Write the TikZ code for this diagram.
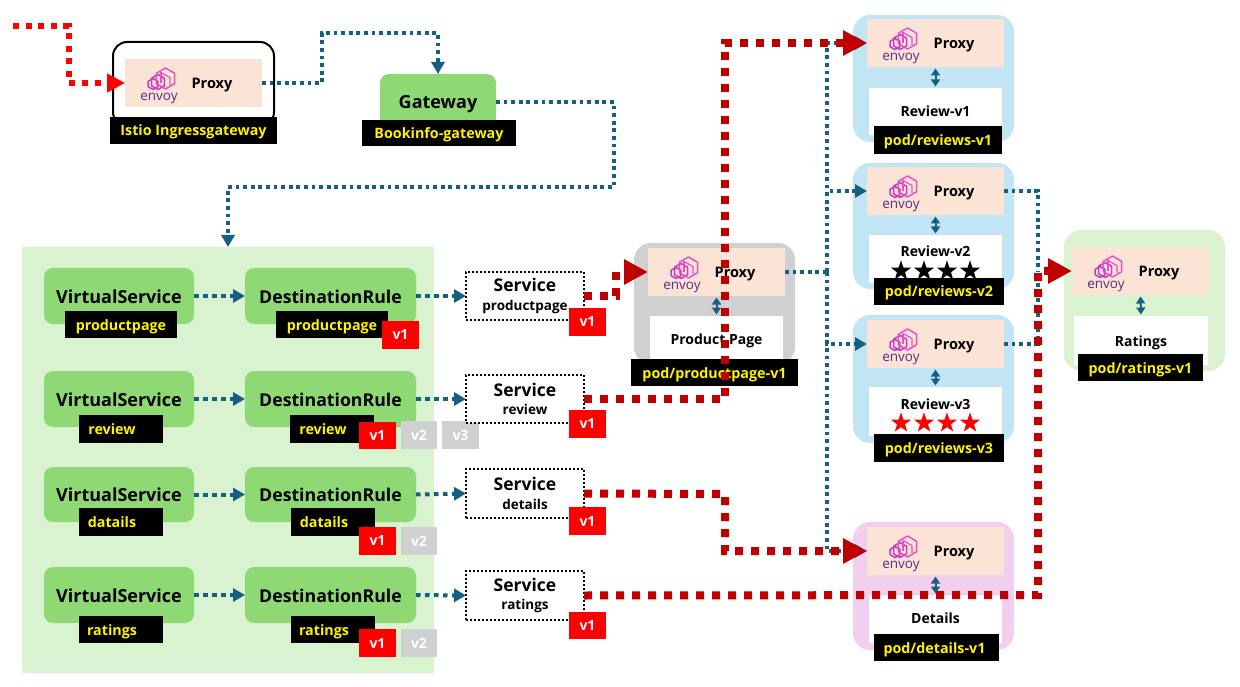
\documentclass[tikz,border=0pt]{standalone}
\usepackage{fontspec}
\setmainfont{Open Sans}
\usetikzlibrary{arrows.meta,shapes.geometric}
\definecolor{teal}{HTML}{156082}
\definecolor{dred}{HTML}{C00000}
\definecolor{bred}{HTML}{FF0000}
\definecolor{ngreen}{HTML}{8ED973}
\definecolor{lgreen}{HTML}{D9F2D0}
\definecolor{lblue}{HTML}{C1E5F5}
\definecolor{lgrey}{HTML}{D0D0D0}
\definecolor{lpink}{HTML}{F2CEEF}
\definecolor{peach}{HTML}{FBE3D6}
\definecolor{hexpink}{HTML}{E84FC8}
\definecolor{hexmag}{HTML}{C63CC0}
\definecolor{envoytxt}{HTML}{5A2C86}
\tikzset{
  panel/.style={fill=lgreen},
  objbox/.style={fill=ngreen,rounded corners=9pt,font=\bfseries\fontsize{18}{20}\selectfont,text=black,text height=14pt,text depth=0pt},
  drbox/.style={objbox,font=\bfseries\fontsize{17.7}{20}\selectfont},
  podbox/.style={rounded corners=17pt},
  proxybox/.style={fill=peach,font=\bfseries\fontsize{14.5}{16}\selectfont,text=black,text height=11pt,text depth=0pt},
  appbox/.style={fill=white,font=\bfseries\fontsize{14}{16}\selectfont,text=black,text height=11pt,text depth=0pt},
  tag/.style={fill=black,text=yellow,font=\bfseries\fontsize{14.3}{16}\selectfont,text height=11pt,text depth=0pt},
  vred/.style={fill=bred,text=white,font=\bfseries\fontsize{14}{16}\selectfont},
  vgrey/.style={fill=lgrey,text=white,font=\bfseries\fontsize{14}{16}\selectfont},
  svcbox/.style={draw=black,fill=white,line width=1.6pt,dash pattern=on 2pt off 2pt,align=center,text=black},
  tealline/.style={draw=teal,line width=3.6pt,dash pattern=on 3.8pt off 3.8pt},
  tealshort/.style={draw=teal,line width=4pt,dash pattern=on 4.5pt off 4.5pt},
  tealtip/.style={-{Triangle[length=12pt,width=13pt,fill=teal]}},
  redline/.style={draw=dred,line width=8pt,dash pattern=on 8pt off 8pt,-{Triangle[length=24pt,width=24pt,fill=dred]}},
  brightline/.style={draw=bred,line width=6pt,dash pattern=on 6pt off 6.6pt,-{Triangle[length=18pt,width=18pt,fill=bred]}},
  biarrow/.style={draw=teal,line width=2pt,{Triangle[length=7pt,width=9pt,fill=teal]}-{Triangle[length=7pt,width=9pt,fill=teal]},shorten <=1.5pt,shorten >=1.5pt},
  starmark/.style={star,star points=5,star point ratio=2.5,inner sep=0pt,minimum size=21pt},
}
\newcommand\bx[7]{%
  \pgfmathsetmacro\bW{#4-#2}\pgfmathsetmacro\bH{#5-#3}%
  \pgfmathsetmacro\bCx{(#2+#4)/2}\pgfmathsetmacro\bCy{(#3+#5)/2}%
  \node[#6,minimum width=\bW pt,minimum height=\bH pt,inner sep=0pt,outer sep=0pt] (#1) at (\bCx,\bCy) {#7};}
\newcommand\hexa[4]{% cx cy r colour
  \pgfmathsetmacro\hA{0.866*#3}\pgfmathsetmacro\hB{0.5*#3}%
  \draw[#4,line width=1.5pt,line join=round] (#1,#2-#3) -- (#1+\hA,#2-\hB) -- (#1+\hA,#2+\hB) -- (#1,#2+#3) -- (#1-\hA,#2+\hB) -- (#1-\hA,#2-\hB) -- cycle;}
\newcommand\proxyb[3]{% name, left, top
  \pgfmathsetmacro\pR{#2+137}\pgfmathsetmacro\pB{#3+48}%
  \bx{#1}{#2}{#3}{\pR}{\pB}{proxybox}{\hspace*{37pt}Proxy}
  \begin{scope}[shift={(#2,#3)}]
    \hexa{28}{25}{5.5}{hexmag}
    \hexa{33}{23}{7.5}{hexmag}
    \hexa{40.5}{19.5}{10.5}{hexpink}
    \draw[hexpink,line width=1.2pt,line join=round] (36,13.5) -- (45,18.5) -- (45,26);
    \draw[hexpink,line width=1.2pt] (36,13.5) -- (36,24);
    \node[text=envoytxt,font=\fontsize{13.5}{15}\selectfont,inner sep=0pt,text height=7pt,text depth=3pt] (#1logo) at (34,39.5) {envoy};
  \end{scope}}
\newcommand\svctext[1]{{\bfseries\fontsize{17.5}{22}\selectfont Service}\\[6.5pt]{\bfseries\fontsize{13.5}{15}\selectfont #1}}
\begin{document}
\begin{tikzpicture}[x=1pt,y=-1pt]
\useasboundingbox[fill=white] (0,0) rectangle (1240,687);

% panel with the routing objects
\bx{panel}{22}{247}{434}{673}{panel}{}

% ingress gateway
\bx{ingress}{113}{42}{274}{126}{draw=black,line width=2pt,fill=white,rounded corners=14pt}{}
\proxyb{ingproxy}{125}{59}
\bx{ingtag}{110}{117}{277}{144}{tag}{Istio Ingressgateway}

% gateway
\bx{gateway}{380}{74}{496}{130}{objbox}{Gateway}
\bx{gwtag}{362}{120}{516}{146}{tag}{Bookinfo-gateway}

% routing rows
\bx{vs1}{44}{268}{194}{324}{objbox}{VirtualService}
\bx{dr1}{245}{268}{416}{324}{drbox}{DestinationRule}
\bx{vs2}{44}{371}{194}{427}{objbox}{VirtualService}
\bx{dr2}{245}{371}{416}{427}{drbox}{DestinationRule}
\bx{vs3}{44}{467}{194}{522}{objbox}{VirtualService}
\bx{dr3}{245}{467}{416}{522}{drbox}{DestinationRule}
\bx{vs4}{44}{567}{194}{623}{objbox}{VirtualService}
\bx{dr4}{245}{567}{416}{623}{drbox}{DestinationRule}

\bx{vt1}{65}{311}{177}{338}{tag}{productpage}
\bx{dt1}{276}{311}{388}{338}{tag}{productpage}
\bx{vt2}{79}{415}{163}{443}{tag}{review\hspace*{18pt}}
\bx{dt2}{290}{415}{374}{443}{tag}{review\hspace*{18pt}}
\bx{vt3}{79}{508}{163}{536}{tag}{datails\hspace*{18pt}}
\bx{dt3}{291}{508}{375}{536}{tag}{datails\hspace*{18pt}}
\bx{vt4}{79}{616}{163}{643}{tag}{ratings\hspace*{18pt}}
\bx{dt4}{291}{616}{375}{643}{tag}{ratings\hspace*{18pt}}

\bx{dv11}{382}{321}{419}{349}{vred}{v1}
\bx{dv21}{359}{422}{396}{449}{vred}{v1}
\bx{dv22}{401}{421}{437}{449}{vgrey}{v2}
\bx{dv23}{442}{421}{479}{449}{vgrey}{v3}
\bx{dv31}{359}{527}{396}{555}{vred}{v1}
\bx{dv32}{401}{527}{437}{555}{vgrey}{v2}
\bx{dv41}{359}{629}{396}{657}{vred}{v1}
\bx{dv42}{401}{629}{437}{657}{vgrey}{v2}

% services
\bx{svc1}{466}{272}{584}{320}{svcbox}{\svctext{productpage}}
\bx{svc2}{466}{375}{584}{423}{svcbox}{\svctext{review}}
\bx{svc3}{466}{469}{584}{518}{svcbox}{\svctext{details}}
\bx{svc4}{466}{571}{584}{620}{svcbox}{\svctext{ratings}}

% pods
\bx{podpp}{634}{243}{795}{364}{podbox,fill=lgrey}{}
\proxyb{pxpp}{648}{248}
\bx{apppp}{650}{316}{783}{362}{appbox}{Product Page}
\bx{tagpp}{631}{359}{798}{386}{tag}{pod/productpage-v1}

\bx{podr1}{853}{15}{1014}{142}{podbox,fill=lblue}{}
\proxyb{pxr1}{867}{19}
\bx{appr1}{869}{88}{1002}{135}{appbox}{Review-v1}
\bx{tagr1}{874}{126}{1002}{154}{tag}{pod/reviews-v1}

\bx{podr2}{853}{163}{1014}{289}{podbox,fill=lblue}{}
\proxyb{pxr2}{867}{167}
\bx{appr2}{869}{235}{1002}{283}{appbox}{\raisebox{8pt}{Review-v2}}
\bx{tagr2}{874}{278}{1004}{305}{tag}{pod/reviews-v2}

\bx{podr3}{853}{315}{1014}{443}{podbox,fill=lblue}{}
\proxyb{pxr3}{867}{320}
\bx{appr3}{869}{387}{1002}{436}{appbox}{\raisebox{8pt}{Review-v3}}
\bx{tagr3}{874}{434}{1004}{462}{tag}{pod/reviews-v3}

\bx{podra}{1064}{230}{1225}{371}{podbox,fill=lgreen}{}
\proxyb{pxra}{1072}{247}
\bx{appra}{1074}{316}{1208}{365}{appbox}{Ratings}
\bx{tagra}{1078}{354}{1203}{381}{tag}{pod/ratings-v1}

\bx{poddt}{853}{522}{1014}{650}{podbox,fill=lpink}{}
\proxyb{pxdt}{867}{527}
\bx{appdt}{869}{595}{1002}{643}{appbox}{\raisebox{1pt}{Details}}
\bx{tagdt}{874}{634}{999}{661}{tag}{pod/details-v1\hspace*{4pt}}

% stars
\node[starmark,fill=black] (s21) at (901,271) {};
\node[starmark,fill=black] (s22) at (924,271) {};
\node[starmark,fill=black] (s23) at (947,271) {};
\node[starmark,fill=black] (s24) at (970,271) {};
\node[starmark,fill=red] (s31) at (901,423) {};
\node[starmark,fill=red] (s32) at (924,423) {};
\node[starmark,fill=red] (s33) at (947,423) {};
\node[starmark,fill=red] (s34) at (970,423) {};

% proxy <-> application
\draw[biarrow] (pxr1.south) -- (appr1.north);
\draw[biarrow] (pxr2.south) -- (appr2.north);
\draw[biarrow] (pxr3.south) -- (appr3.north);
\draw[biarrow] (pxpp.south) -- (apppp.north);
\draw[biarrow] (pxra.south) -- (appra.north);
\draw[biarrow] (pxdt.south) -- (appdt.north);

% waypoints
\coordinate (t1) at (322,83);
\coordinate (t2) at (322,33);
\coordinate (t3) at (438,33);
\coordinate (t4) at (614,102);
\coordinate (t5) at (614,187);
\coordinate (t6) at (228,187);
\coordinate (tr) at (827,272);
\coordinate (tv) at (1038,191);
\coordinate (tw) at (1038,344);
\coordinate (tx) at (1038,271);
\coordinate (start) at (13,26);
\coordinate (b1) at (69,26);
\coordinate (b2) at (69,83);
\coordinate (r1) at (616,296);
\coordinate (r2) at (616,272);
\coordinate (r3) at (725,399);
\coordinate (r4) at (725,43);
\coordinate (r5) at (725,494);
\coordinate (r6) at (725,551);
\coordinate (r7) at (1038,595);
\coordinate (r8) at (1038,271);

% control flow
\draw[tealline,tealtip] (ingproxy.east) -- (t1) -- (t2) -- (t3) -- (gateway.north);
\draw[tealline,tealtip] (gateway.east) -- (t4) -- (t5) -- (t6) -- (panel.north);
\draw[tealshort,tealtip] (vs1.east) -- (dr1.west);
\draw[tealshort,tealtip] (vs2.east) -- (dr2.west);
\draw[tealshort,tealtip] (vs3.east) -- (dr3.west);
\draw[tealshort,tealtip] (vs4.east) -- (dr4.west);
\draw[tealshort,tealtip] (dr1.east) -- (svc1.west);
\draw[tealshort,tealtip] (dr2.east) -- (svc2.west);
\draw[tealshort,tealtip] (dr3.east) -- (svc3.west);
\draw[tealshort,tealtip] (dr4.east) -- (svc4.west);
\draw[tealline] (pxpp.east) -- (tr);
\draw[tealline,tealtip] (tr) |- (pxr1.west);
\draw[tealline,tealtip] (tr) |- (pxr2.west);
\draw[tealline,tealtip] (tr) |- (pxr3.west);
\draw[tealline,tealtip] (tr) |- (pxdt.west);
\draw[tealline] (pxr2.east) -- (tv) -- (tx);
\draw[tealline] (pxr3.east) -- (tw) -- (tx);

% request flow
\draw[brightline] (start) -- (b1) -- (b2) -- (ingproxy.west);
\draw[redline] (svc1.east) -- (r1) -- (r2) -- (pxpp.west);
\draw[redline] (svc2.east) -- (r3) -- (r4) -- (pxr1.west);
\draw[redline] (svc3.east) -- (r5) -- (r6) -- (pxdt.west);
\draw[redline] (svc4.east) -- (r7) -- (r8) -- (pxra.west);

% service subsets, over the lines
\bx{sv1}{569}{308}{606}{336}{vred}{v1}
\bx{sv2}{569}{410}{606}{438}{vred}{v1}
\bx{sv3}{569}{507}{606}{535}{vred}{v1}
\bx{sv4}{569}{612}{606}{639}{vred}{v1}
\end{tikzpicture}
\end{document}
